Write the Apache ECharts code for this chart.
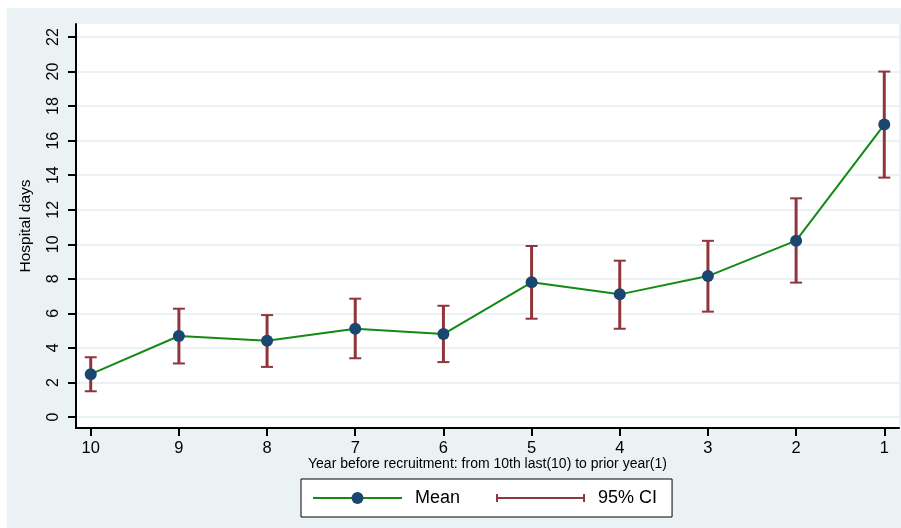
<!DOCTYPE html>
<html>
<head>
<meta charset="utf-8">
<script src="https://cdn.jsdelivr.net/npm/echarts@6/dist/echarts.min.js"></script>
<style>
html,body{margin:0;padding:0;background:#fff;}
#chart{width:901px;height:528px;}
</style>
</head>
<body>
<div id="chart"></div>
<script>
// Data
const years = [10, 9, 8, 7, 6, 5, 4, 3, 2, 1];
const meanDays = [2.48, 4.69, 4.42, 5.11, 4.8, 7.8, 7.1, 8.16, 10.21, 16.93];
const ciLow = [1.49, 3.1, 2.9, 3.4, 3.18, 5.69, 5.11, 6.1, 7.78, 13.86];
const ciHigh = [3.46, 6.27, 5.9, 6.85, 6.44, 9.9, 9.05, 10.2, 12.66, 20.0];
const yTicks = [0, 2, 4, 6, 8, 10, 12, 14, 16, 18, 20, 22];
const xTicks = [10, 9, 8, 7, 6, 5, 4, 3, 2, 1];

const bg = '#EAF2F3';
const font = '"Liberation Sans", Arial, Helvetica, sans-serif';

const meanData = years.map((y, i) => [y, meanDays[i]]);
const ciData = years.map((y, i) => [y, ciLow[i], ciHigh[i]]);

const chart = echarts.init(document.getElementById('chart'), null, {renderer: 'canvas'});
chart.setOption({
  animation: false,
  backgroundColor: '#fff',
  textStyle: {fontFamily: font},
  graphic: [{
    type: 'rect', z: -100, silent: true,
    shape: {x: 7, y: 8, width: 894, height: 520},
    style: {fill: bg}
  }],
  grid: {
    left: 76, right: 2, top: 24, bottom: 100,
    show: true, backgroundColor: '#fff', borderWidth: 0
  },
  xAxis: {
    type: 'value', inverse: true, min: 0.833, max: 10.167,
    name: 'Year before recruitment: from 10th last(10) to prior year(1)',
    nameLocation: 'middle', nameGap: 29, nameMoveOverlap: false,
    nameTextStyle: {fontSize: 14, color: '#000', fontFamily: font},
    axisLine: {show: true, onZero: false, lineStyle: {color: '#000', width: 2}},
    axisTick: {show: true, length: 8, lineStyle: {color: '#000', width: 2}, customValues: xTicks},
    axisLabel: {fontSize: 16.5, color: '#000', margin: 12, customValues: xTicks, fontFamily: font},
    splitLine: {show: false}
  },
  yAxis: {
    type: 'value', min: -0.637, max: 22.753,
    name: 'Hospital days', nameLocation: 'middle', nameGap: 42, nameRotate: 90, nameMoveOverlap: false,
    nameTextStyle: {fontSize: 15.5, color: '#000', fontFamily: font},
    axisLine: {show: true, onZero: false, lineStyle: {color: '#000', width: 2}},
    axisTick: {show: true, length: 8, lineStyle: {color: '#000', width: 2}, customValues: yTicks},
    axisLabel: {fontSize: 16, color: '#000', margin: 14, rotate: 90, customValues: yTicks, fontFamily: font},
    splitLine: {show: true, lineStyle: {color: bg, width: 2}}
  },
  legend: {
    left: 301, top: 479,
    orient: 'horizontal',
    backgroundColor: '#fff', borderColor: '#000', borderWidth: 1, borderRadius: 0,
    padding: [10, 15, 10, 11],
    itemWidth: 89, itemHeight: 15, itemGap: 36,
    textStyle: {fontSize: 18, color: '#000', fontFamily: font, padding: [0, 0, 0, 8]},
    data: [
      {name: 'Mean'},
      {name: '95% CI', icon: 'path://M0,0L0,0M89,15L89,15M0,3.5H2V6.5H87V3.5H89V11.5H87V8.5H2V11.5H0Z'}
    ]
  },
  series: [
    {
      name: '95% CI', type: 'custom', z: 2,
      itemStyle: {color: '#90353B'},
      data: ciData,
      encode: {x: 0, y: [1, 2]},
      renderItem: function (params, api) {
        const x = api.value(0);
        const lo = api.coord([x, api.value(1)]);
        const hi = api.coord([x, api.value(2)]);
        const c = '#90353B';
        const hw = 6;
        return {
          type: 'group',
          children: [
            {type: 'line', shape: {x1: lo[0], y1: lo[1], x2: hi[0], y2: hi[1]}, style: {stroke: c, lineWidth: 3}},
            {type: 'line', shape: {x1: lo[0] - hw, y1: lo[1], x2: lo[0] + hw, y2: lo[1]}, style: {stroke: c, lineWidth: 2}},
            {type: 'line', shape: {x1: hi[0] - hw, y1: hi[1], x2: hi[0] + hw, y2: hi[1]}, style: {stroke: c, lineWidth: 2}}
          ]
        };
      }
    },
    {
      name: 'Mean', type: 'line', z: 3,
      data: meanData,
      symbol: 'circle', symbolSize: 12,
      lineStyle: {color: '#148A14', width: 2},
      itemStyle: {color: '#1A476F', borderWidth: 0},
      color: '#148A14'
    }
  ]
});
</script>
</body>
</html>
